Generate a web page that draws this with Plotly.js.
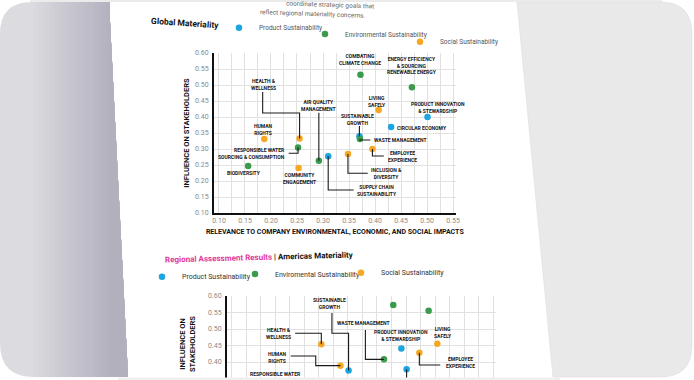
<!DOCTYPE html>
<html><head><meta charset="utf-8">
<script src="https://cdn.plot.ly/plotly-3.0.1.min.js"></script>
<style>html,body{margin:0;padding:0;background:#fff;overflow:hidden}#chart{width:694px;height:380px}</style>
</head><body><div id="chart"></div>
<script>
// ---------- DATA ----------
const groupNames = ['Product Sustainability', 'Environmental Sustainability', 'Social Sustainability'];
const groupNamesAmericas = ['Product Sustainability', 'Enviromental Sustainability', 'Social Sustainability'];

const globalCategories = ['Human Rights', 'Health & Wellness', 'Responsible Water Sourcing & Consumption', 'Biodiversity',
  'Community Engagement', 'Air Quality Management', 'Supply Chain Sustainability', 'Combating Climate Change',
  'Energy Efficiency & Sourcing Renewable Energy', 'Living Safely', 'Product Innovation & Stewardship',
  'Circular Economy', 'Sustainable Growth', 'Waste Management', 'Employee Experience', 'Inclusion & Diversity'];
const globalGroup = [2, 2, 1, 1, 2, 1, 0, 1, 1, 2, 0, 0, 0, 1, 2, 2];
const globalRelevance = [0.187, 0.255, 0.252, 0.156, 0.253, 0.292, 0.310, 0.372, 0.471, 0.407, 0.501, 0.431, 0.370, 0.371, 0.395, 0.348];
const globalInfluence = [0.331, 0.333, 0.305, 0.247, 0.241, 0.263, 0.277, 0.532, 0.493, 0.422, 0.400, 0.369, 0.340, 0.331, 0.300, 0.284];

const americasCategories = ['Health & Wellness', 'Human Rights', 'Sustainable Growth', 'Waste Management',
  'Combating Climate Change', 'Energy Efficiency & Sourcing Renewable Energy', 'Product Innovation & Stewardship',
  'Living Safely', 'Employee Experience', 'Circular Economy'];
const americasGroup = [2, 2, 0, 1, 1, 1, 0, 2, 2, 0];
const americasRelevance = [0.254, 0.287, 0.301, 0.362, 0.378, 0.439, 0.392, 0.454, 0.423, 0.401];
const americasInfluence = [0.454, 0.389, 0.374, 0.408, 0.573, 0.555, 0.441, 0.455, 0.428, 0.378];

const xTickVals = [0.10, 0.15, 0.20, 0.25, 0.30, 0.35, 0.40, 0.45, 0.50, 0.55];
const yTickVals = [0.10, 0.15, 0.20, 0.25, 0.30, 0.35, 0.40, 0.45, 0.50, 0.55, 0.60];

// ---------- LABEL LAYOUT (positions of label text and leader waypoints) ----------
// [text, x, y, xanchor, align, leader waypoints (null = use point coordinate)]
const globalLabels = [
  ['HUMAN<br>RIGHTS', 0.186, 0.361, 'center', 'center', null],
  ['HEALTH &<br>WELLNESS', 0.185, 0.503, 'center', 'center', [[0.184, 0.478], [0.184, 0.4125], [null, 0.4125]]],
  ['RESPONSIBLE WATER<br>SOURCING & CONSUMPTION', 0.231, 0.2865, 'right', 'right', [[0.234, 0.2865], [null, 0.2865]]],
  ['BIODIVERSITY', 0.1485, 0.225, 'center', 'center', null],
  ['COMMUNITY<br>ENGAGEMENT', 0.254, 0.209, 'center', 'center', null],
  ['AIR QUALITY<br>MANAGEMENT', 0.292, 0.436, 'center', 'center', [[null, 0.413]]],
  ['SUPPLY CHAIN<br>SUSTAINABILITY', 0.362, 0.170, 'left', 'center', [[0.359, 0.172], [null, 0.172]]],
  ['COMBATING<br>CLIMATE CHANGE', 0.372, 0.581, 'center', 'center', null],
  ['ENERGY EFFICIENCY<br>& SOURCING<br>RENEWABLE ENERGY', 0.4706, 0.560, 'center', 'center', null],
  ['LIVING<br>SAFELY', 0.4045, 0.45, 'center', 'center', null],
  ['PRODUCT INNOVATION<br>& STEWARDSHIP', 0.521, 0.43, 'center', 'center', null],
  ['CIRCULAR ECONOMY', 0.439, 0.366, 'left', 'left', null],
  ['SUSTAINABLE<br>GROWTH', 0.366, 0.393, 'center', 'center', [[null, 0.372]]],
  ['WASTE MANAGEMENT', 0.394, 0.327, 'left', 'left', [[0.391, 0.328], [null, 0.328]]],
  ['EMPLOYEE<br>EXPERIENCE', 0.421, 0.278, 'left', 'center', [[0.417, 0.278], [null, 0.278]]],
  ['INCLUSION &<br>DIVERSITY', 0.389, 0.222, 'left', 'center', [[0.386, 0.224], [null, 0.224]]]
];
const americasLabels = [
  ['HEALTH &<br>WELLNESS', 0.2055, 0.486, 'right', 'center', [[0.2088, 0.487], [null, 0.487]]],
  ['HUMAN<br>RIGHTS', 0.1776, 0.415, 'center', 'center', [[0.2013, 0.418], [0.2444, 0.418], [0.2444, null]]],
  ['SUSTAINABLE<br>GROWTH', 0.2676, 0.577, 'center', 'center', [[0.2723, 0.5485], [0.2723, 0.487], [null, 0.487]]],
  ['WASTE MANAGEMENT', 0.327, 0.518, 'center', 'center', [[0.330, 0.497], [0.330, null]]],
  ['COMBATING<br>CLIMATE CHANGE', 0.378, 0.609, 'center', 'center', null],
  ['ENERGY EFFICIENCY<br>& SOURCING<br>RENEWABLE ENERGY', 0.4717, 0.6015, 'center', 'center', null],
  ['PRODUCT INNOVATION<br>& STEWARDSHIP', 0.3915, 0.479, 'center', 'center', null],
  ['LIVING<br>SAFELY', 0.4633, 0.488, 'center', 'center', null],
  ['EMPLOYEE<br>EXPERIENCE', 0.4653, 0.397, 'left', 'center', [[0.459, 0.391], [null, 0.391]]],
  [null, 0, 0, 'center', 'center', [[null, 0.30]]]
];

// ---------- STYLE ----------
const W = 694, H = 380;
const colors = ['#1ba6e1', '#3b9a4b', '#f7a823'];
const FONT = 'Roboto, "Open Sans", sans-serif';
const px = v => v / W;
const py = v => 1 - v / H;
const P = (x, y) => px(x) + ',' + py(y);

const traces = [];
function addTraces(cats, grp, xs, ys, names, xa, ya, legendIds) {
  for (let g = 0; g < 3; g++) {
    const idx = cats.map((c, i) => i).filter(i => grp[i] === g);
    traces.push({
      type: 'scatter', mode: 'markers', name: names[g],
      x: idx.map(i => xs[i]), y: idx.map(i => ys[i]), text: idx.map(i => cats[i]),
      xaxis: xa, yaxis: ya, legend: legendIds[g], cliponaxis: false,
      marker: { color: colors[g], size: 6.5 }, hoverinfo: 'text'
    });
  }
}
addTraces(globalCategories, globalGroup, globalRelevance, globalInfluence, groupNames, 'x', 'y', ['legend', 'legend2', 'legend3']);
addTraces(americasCategories, americasGroup, americasRelevance, americasInfluence, groupNamesAmericas, 'x2', 'y2', ['legend4', 'legend5', 'legend6']);

const annotations = [];
const shapes = [];

// background: photo frame
const leftPanel = 'M ' + P(0, 34) + ' Q ' + P(0, 2) + ' ' + P(32, 2) + ' L ' + P(109, 2) + ' L ' + P(128, 377) + ' L ' + P(34, 377) + ' Q ' + P(0, 377) + ' ' + P(0, 343) + ' Z';
shapes.push({ type: 'path', xref: 'paper', yref: 'paper', path: leftPanel, fillcolor: '#dcdce0', line: { width: 0 }, layer: 'below' });
const nStrips = 20;
for (let k = 0; k < nStrips; k++) {
  const x0 = 34 + k * 4;
  const t = (k + 1) / nStrips;
  const c = [Math.round(218 - 40 * t), Math.round(218 - 42 * t), Math.round(223 - 34 * t)];
  shapes.push({ type: 'path', xref: 'paper', yref: 'paper',
    path: 'M ' + P(x0, 2) + ' L ' + P(109, 2) + ' L ' + P(128, 377) + ' L ' + P(x0, 377) + ' Z',
    fillcolor: 'rgb(' + c.join(',') + ')', line: { width: 0 }, layer: 'below' });
}
shapes.push({ type: 'path', xref: 'paper', yref: 'paper',
  path: 'M ' + P(517, 2) + ' L ' + P(660, 2) + ' Q ' + P(692, 2) + ' ' + P(692, 34) + ' L ' + P(692, 345) + ' Q ' + P(692, 377) + ' ' + P(660, 377) + ' L ' + P(553, 377) + ' Z',
  fillcolor: '#e9e9e9', line: { width: 0.6, color: '#dedede' }, layer: 'below' });
shapes.push({ type: 'rect', xref: 'paper', yref: 'paper', x0: px(30), x1: px(662), y0: py(0), y1: py(2), fillcolor: '#ebebeb', line: { width: 0 }, layer: 'below' });

// point labels + leader lines
function addLabels(labels, xs, ys, xref, yref) {
  labels.forEach((l, i) => {
    const [text, lx, ly, xanchor, align, wps] = l;
    if (text) annotations.push({ xref, yref, x: lx, y: ly, text, xanchor, yanchor: 'middle', align, showarrow: false,
      font: { family: FONT, size: 5, weight: 700, color: '#151515' } });
    if (wps) {
      const pts = wps.map(w => [w[0] === null ? xs[i] : w[0], w[1] === null ? ys[i] : w[1]]);
      pts.push([xs[i], ys[i]]);
      shapes.push({ type: 'path', xref, yref, layer: 'above', path: 'M ' + pts.map(p => p[0] + ',' + p[1]).join(' L '),
        line: { color: '#1a1a1a', width: 1.1 } });
    }
  });
}
addLabels(globalLabels, globalRelevance, globalInfluence, 'x', 'y');
addLabels(americasLabels, americasRelevance, americasInfluence, 'x2', 'y2');
annotations.push({ xref: 'x2', yref: 'y2', x: 0.1753, y: 0.3636, text: 'RESPONSIBLE WATER', showarrow: false,
  xanchor: 'center', yanchor: 'middle', font: { family: FONT, size: 5, weight: 700, color: '#151515' } });

// page texts
function pageText(x, y, text, angle, font) {
  annotations.push({ xref: 'paper', yref: 'paper', x: px(x), y: py(y), text, showarrow: false, textangle: angle,
    xanchor: 'center', yanchor: 'middle', font });
}
pageText(330, 5.5, 'coordinate strategic goals that', 2, { family: FONT, size: 6.5, color: '#666' });
pageText(313, 14, 'reflect regional materiality concerns.', 2, { family: FONT, size: 6.5, color: '#666' });
pageText(184.5, 23, 'Global Materiality', 4, { family: FONT, size: 8.5, weight: 700, color: '#111' });
pageText(259, 257.5, '<span style="color:#e2379b">Regional Assessment Results</span> | Americas Materiality', -1.5,
  { family: FONT, size: 8, weight: 700, color: '#111' });
pageText(187, 344, 'INFLUENCE ON<br>STAKEHOLDERS', -90, { family: FONT, size: 7.5, weight: 700, color: '#111' });

// legends
function leg(left, center, size, color) {
  return { x: px(left), xanchor: 'left', y: py(center), yanchor: 'middle', orientation: 'h', bgcolor: 'rgba(0,0,0,0)',
    borderwidth: 0, font: { family: FONT, size, color }, itemclick: false, itemdoubleclick: false };
}

const gridColor = '#e1e1e1';
const tickFont = { family: FONT, size: 7, color: '#8a8a8a' };
const layout = {
  width: W, height: H, margin: { l: 0, r: 0, t: 0, b: 0 },
  paper_bgcolor: '#ffffff', plot_bgcolor: 'rgba(0,0,0,0)',
  font: { family: FONT },
  xaxis: { domain: [px(214), px(455.6)], range: [0.0904, 0.555], anchor: 'y', tickvals: xTickVals, tickformat: '.2f',
    showline: true, linecolor: '#111', linewidth: 2, gridcolor: gridColor, zeroline: false, ticks: '',
    minor: { dtick: 0.025, tick0: 0.1, showgrid: true, gridcolor: gridColor }, tickfont: tickFont, fixedrange: true,
    title: { text: 'RELEVANCE TO COMPANY ENVIRONMENTAL, ECONOMIC, AND SOCIAL IMPACTS', standoff: 5,
      font: { family: FONT, size: 7, weight: 700, color: '#111' } } },
  yaxis: { domain: [py(213), py(53)], range: [0.10, 0.60], anchor: 'x', tickvals: yTickVals, tickformat: '.2f',
    showline: true, linecolor: '#111', linewidth: 2, gridcolor: gridColor, zeroline: false, ticks: '', ticklabelstandoff: 2,
    tickfont: tickFont, fixedrange: true,
    title: { text: 'INFLUENCE ON STAKEHOLDERS', standoff: 4, font: { family: FONT, size: 7.5, weight: 700, color: '#111' } } },
  xaxis2: { domain: [px(227), px(495.9)], range: [0.0914, 0.555], anchor: 'y2', tickvals: xTickVals, showticklabels: false,
    showline: false, gridcolor: gridColor, zeroline: false, ticks: '',
    minor: { dtick: 0.025, tick0: 0.1, showgrid: true, gridcolor: gridColor }, fixedrange: true },
  yaxis2: { domain: [py(378.5), py(296)], range: [0.35, 0.60], anchor: 'x2', tickvals: yTickVals, tickformat: '.2f',
    showline: true, linecolor: '#111', linewidth: 2, gridcolor: gridColor, zeroline: false, ticks: '', ticklabelstandoff: 2,
    tickfont: tickFont, fixedrange: true },
  legend: leg(219, 27.7, 6.5, '#555'),
  legend2: leg(305, 34, 6.5, '#555'),
  legend3: leg(400, 41.7, 6.5, '#555'),
  legend4: leg(142, 276.7, 7, '#333'),
  legend5: leg(235, 274, 7, '#333'),
  legend6: leg(341, 272.7, 7, '#333'),
  shapes, annotations, showlegend: true, hovermode: false
};
shapes.push({ type: 'rect', xref: 'paper', yref: 'paper', x0: px(118), x1: px(560), y0: py(380), y1: py(377.5), fillcolor: '#efefef', line: { width: 0 }, layer: 'above' });

Plotly.newPlot('chart', traces, layout, { staticPlot: true, displayModeBar: false });
</script></body></html>
